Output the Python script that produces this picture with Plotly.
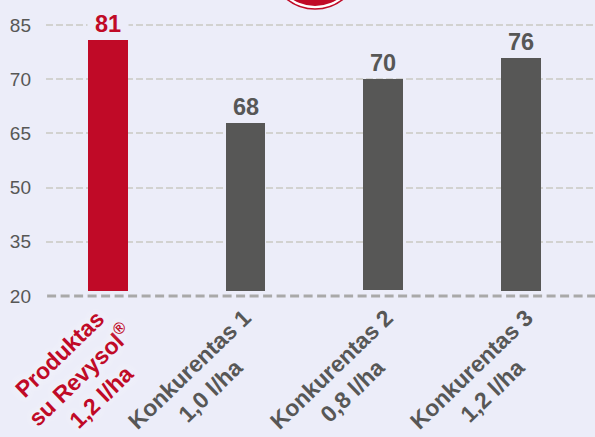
import plotly.graph_objects as go

categories = ["Produktas<br>su Revysol<sup>®</sup><br>1,2 l/ha", "Konkurentas 1<br>1,0 l/ha", "Konkurentas 2<br>0,8 l/ha", "Konkurentas 3<br>1,2 l/ha"]
bar_tops = [90.8, 67.9, 80.0, 85.9]
bar_base = [21.4, 21.4, 21.6, 21.4]
value_labels = ["81", "68", "70", "76"]
tick_positions = [20, 35, 50, 65, 80, 95]
tick_labels = ["20", "35", "50", "65", "70", "85"]

RED = "#c00a27"
GRAY = "#575756"
BG = "#ecedf9"
colors = [RED, GRAY, GRAY, GRAY]
FONT = "Liberation Sans"
LEFT, BOTTOM, W, H = 46, 135, 595, 437
PW, PH = W - LEFT, H - BOTTOM

fig = go.Figure()
fig.add_bar(
    x=[0, 1, 2, 3],
    y=[t - b for t, b in zip(bar_tops, bar_base)],
    base=bar_base,
    width=0.29,
    marker=dict(color=colors, line_width=0),
    hoverinfo="skip",
)

shapes = [
    dict(type="line", xref="paper", yref="y", x0=0, x1=1, y0=20, y1=20, layer="above",
         line=dict(color=BG, width=3)),
    dict(type="line", xref="paper", yref="y", x0=0.002, x1=1, y0=20, y1=20, layer="above",
         line=dict(color="#a9a9a9", width=3, dash="9px,4.5px")),
    dict(type="circle", xref="paper", yref="paper", xsizemode="pixel", ysizemode="pixel",
         xanchor=(315 - LEFT) / PW, yanchor=1, x0=-45, x1=45, y0=-9, y1=81,
         line=dict(color=RED, width=1.6), fillcolor="white"),
    dict(type="circle", xref="paper", yref="paper", xsizemode="pixel", ysizemode="pixel",
         xanchor=(315 - LEFT) / PW, yanchor=1, x0=-42, x1=42, y0=-6, y1=78,
         line=dict(width=0), fillcolor=RED),
]

annotations = []
for i, (t, lab, c) in enumerate(zip(bar_tops, value_labels, colors)):
    annotations.append(dict(
        x=i, y=t, xref="x", yref="y", text=lab, showarrow=False,
        yanchor="bottom", yshift=2, width=40, align="center",
        bgcolor=BG, borderpad=0,
        font=dict(family=FONT, size=23.5, color=c, weight="bold"),
    ))

label_pos = [(80, 376), (200, 380), (342, 380), (482, 380)]
for i, (cat, c, (px, py)) in enumerate(zip(categories, colors, label_pos)):
    annotations.append(dict(
        x=(px - LEFT) / PW, y=1 - py / PH, xref="paper", yref="paper",
        text=cat, showarrow=False, textangle=-44, align="center",
        xanchor="center", yanchor="middle",
        font=dict(family=FONT, size=23, color=c, weight="bold",
                  shadow="0 0 10px #f8f8fd" if i == 0 else "none"),
    ))

fig.update_layout(
    width=W, height=H,
    margin=dict(l=LEFT, r=0, t=0, b=BOTTOM, pad=0),
    paper_bgcolor=BG, plot_bgcolor=BG,
    showlegend=False,
    bargap=0,
    shapes=shapes,
    annotations=annotations,
    font=dict(family=FONT),
    xaxis=dict(range=[-0.45, 3.54], showticklabels=False, showgrid=False,
               zeroline=False, showline=False, ticks=""),
    yaxis=dict(range=[18.34, 101.9], tickmode="array", tickvals=tick_positions, ticktext=tick_labels,
               tickfont=dict(family=FONT, size=19, color=GRAY),
               ticks="", ticklabelstandoff=14, showgrid=True, gridcolor="#d2d2d0", griddash="7px,3px",
               gridwidth=1.5, zeroline=False, showline=False),
)
fig.write_html("out.html", config=dict(displayModeBar=False),
               post_script="document.body.style.margin='0';document.body.style.overflow='hidden';")
